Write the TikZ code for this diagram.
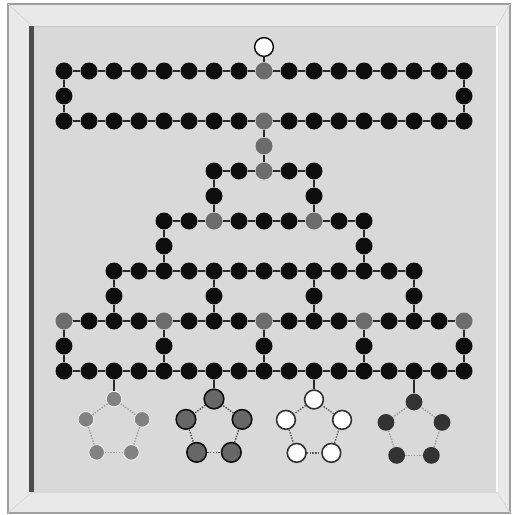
\documentclass[tikz,border=0pt]{standalone}
\usetikzlibrary{calc}
\definecolor{boardgray}{RGB}{217,217,217}
\definecolor{framegray}{RGB}{233,233,233}
\definecolor{beadblack}{RGB}{14,14,14}
\definecolor{beadgray}{RGB}{108,108,108}
\definecolor{wiregray}{RGB}{40,40,40}

\begin{document}
\begin{tikzpicture}[x=6.25mm, y=6.25mm,
  bead/.style={circle, fill=beadblack, inner sep=0pt, minimum size=4.25mm},
  gbead/.style={bead, fill=beadgray},
  obead/.style={bead, fill=white, draw=beadblack, line width=0.35mm, minimum size=4.7mm},
  pentA/.style={bead, fill=beadgray!85!white, draw=white!70!boardgray, line width=0.2mm, minimum size=3.9mm},
  pentB/.style={bead, fill=beadgray!95!black, draw=beadblack, line width=0.4mm, minimum size=4.9mm},
  pentC/.style={bead, fill=white, draw=beadblack!85, line width=0.4mm, minimum size=4.7mm},
  pentD/.style={bead, fill=black!80, minimum size=4.2mm},
  wire/.style={line width=0.5mm, wiregray},
  ring/.style={densely dotted, line width=0.35mm}]
% board and frame
\useasboundingbox (-2.56,2.84) rectangle (17.92,-17.76);
\fill[white] (-2.56,2.84) rectangle (17.92,-17.76);
\filldraw[fill=framegray, draw=gray!75, line width=0.3mm] (-2.24,2.68) rectangle (17.84,-17.68);
\fill[boardgray] (-1.28,1.8) rectangle (17.32,-16.84);
\draw[gray!45, line width=0.2mm] (-1.28,1.8) -- (17.32,1.8);
\draw[gray!30, line width=0.2mm] (-1.28,-16.84) -- (17.32,-16.84);
\draw[white, line width=0.3mm] (17.32,1.8) -- (17.32,-16.84);
\fill[black!70] (-1.38,1.8) rectangle (-1.18,-16.84);
\draw[gray!35, line width=0.15mm] (-2.24,2.68) -- (-1.28,1.8) (17.84,2.68) -- (17.32,1.8)
  (-2.24,-17.68) -- (-1.28,-16.84) (17.84,-17.68) -- (17.32,-16.84);

% black beads, row by row
\foreach \r/\cols in {0/{0,...,7,9,10,...,16}, 1/{0,16}, 2/{0,...,7,9,10,...,16},
    4/{6,7,9,10}, 5/{6,10}, 6/{4,5,7,8,9,11,12}, 7/{4,12}, 8/{2,...,14},
    9/{2,6,10,14}, 10/{1,2,3,5,6,7,9,10,11,13,14,15}, 11/{0,4,8,12,16}, 12/{0,...,16}}
  \foreach \c in \cols \node[bead] (b\r-\c) at (\c,-\r) {};
% grey beads
\foreach \r/\c in {0/8,2/8,3/8,4/8,6/6,6/10,10/0,10/4,10/8,10/12,10/16}
  \node[gbead] (b\r-\c) at (\c,-\r) {};
\node[obead] (top) at (8,0.96) {};

% wires
\draw[wire] (top) -- (b0-8);
\foreach \r/\from/\to in {0/0/16,2/0/16,4/6/10,6/4/12,8/2/14,10/0/16,12/0/16}{
  \pgfmathtruncatemacro\last{\to-1}
  \foreach \c in {\from,...,\last}{
    \pgfmathtruncatemacro\n{\c+1}
    \draw[wire] (b\r-\c) -- (b\r-\n);}}
\foreach \r/\c in {0/0,0/16,2/8,4/6,4/10,6/4,6/12,8/2,8/6,8/10,8/14,10/0,10/4,10/8,10/12,10/16}{
  \pgfmathtruncatemacro\s{\r+1}
  \pgfmathtruncatemacro\t{\r+2}
  \draw[wire] (b\r-\c) -- (b\s-\c);
  \draw[wire] (b\s-\c) -- (b\t-\c);}

% pentagons below the board
\foreach \k/\c/\cy/\sty/\col in {1/2/-14.3/pentA/gray!75, 2/6/-14.3/pentB/black!70,
    3/10/-14.32/pentC/black!65, 4/14/-14.42/pentD/gray!80}{
  \foreach \i in {0,...,4}
    \node[\sty] (p\k-\i) at ($(\c,\cy)+(90+72*\i:1.18)$) {};
  \foreach \i in {0,...,4}{
    \pgfmathtruncatemacro\j{mod(\i+1,5)}
    \draw[ring, \col] (p\k-\i) -- (p\k-\j);}
  \draw[wire] (b12-\c) -- (p\k-0);}
\end{tikzpicture}
\end{document}
